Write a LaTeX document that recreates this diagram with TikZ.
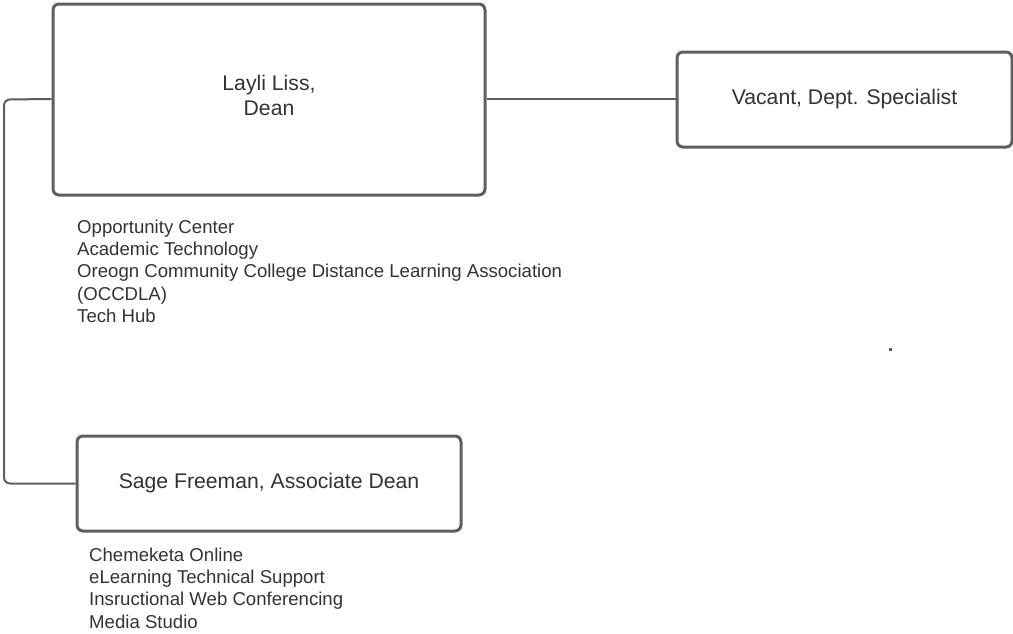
\documentclass[tikz,border=0pt]{standalone}
\usepackage{fontspec}
\setmainfont{Liberation Sans}
\definecolor{linegray}{HTML}{5E5E5E}
\definecolor{txtgray}{HTML}{333333}
\begin{document}
\begin{tikzpicture}[x=1pt,y=-1pt,
  box/.style={draw=linegray,line width=3pt,rounded corners=6pt,fill=white,text=txtgray,align=center,font=\fontsize{21.2}{25}\selectfont,inner sep=0pt},
  boxtext/.style={text=txtgray,align=center,font=\fontsize{21.2}{25}\selectfont,inner sep=0pt},
  conn/.style={draw=linegray,line width=2pt},
  listtext/.style={text=txtgray,align=left,anchor=north west,inner sep=0pt,font=\fontsize{18.6}{22.3}\selectfont}]
\useasboundingbox (0,0) rectangle (1013,633);
\node[box,minimum width=432pt,minimum height=191pt] (dean) at (269,99.5) {};
\node[boxtext] (deanlabel) at (269,95) {Layli Liss,\\Dean};
\node[box,minimum width=335pt,minimum height=95pt] (vac) at (844.5,99.5) {Vacant, Dept. Specialist};
\node[box,minimum width=384pt,minimum height=95pt] (sage) at (269,483.5) {Sage Freeman, Associate Dean};
\coordinate (c1) at (4,100);
\coordinate (c2) at (4,484);
\draw[conn,rounded corners=6pt] ([yshift=0.5pt]dean.west) -- (c1 |- dean.west) -- (c2 |- sage.west) -- (sage.west);
\draw[conn] ([yshift=0.5pt]dean.east) -- ([yshift=0.5pt]vac.west);
\node[listtext] (l1) at (77,219.5) {Opportunity Center\\Academic Technology\\Oreogn Community College Distance Learning Association\\(OCCDLA)\\Tech Hub};
\node[listtext] (l2) at (89,547.5) {Chemeketa Online\\eLearning Technical Support\\Insructional Web Conferencing\\Media Studio};
\fill[linegray] (889,347.5) rectangle (891.5,350.5);
\end{tikzpicture}
\end{document}
